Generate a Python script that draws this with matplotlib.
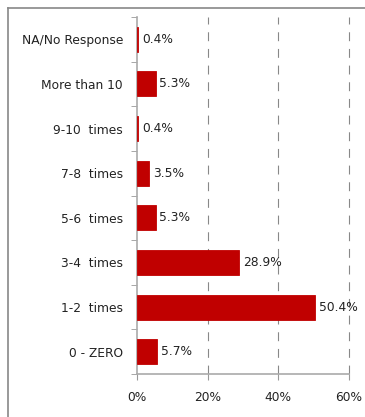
import matplotlib
matplotlib.use("Agg")
import matplotlib.pyplot as plt
from matplotlib.lines import Line2D

categories = ["0 - ZERO", "1-2  times", "3-4  times", "5-6  times", "7-8  times",
              "9-10  times", "More than 10", "NA/No Response"]
values = [5.7, 50.4, 28.9, 5.3, 3.5, 0.4, 5.3, 0.4]
xticks = [0, 20, 40, 60]
xtick_labels = ["0%", "20%", "40%", "60%"]

W, H = 365, 417
fig = plt.figure(figsize=(W / 100, H / 100), dpi=100)
plt.rcParams['font.family'] = ['DejaVu Sans']
FS = 8.8

left, right, top, bottom = 137, 349, 17, 374
ax = fig.add_axes([left / W, 1 - bottom / H, (right - left) / W, (bottom - top) / H])

ypos = list(range(len(categories)))
ax.barh(ypos, values, height=0.56, color="#C00000", edgecolor="#C00000",
        linewidth=0.6, zorder=3)
for y, v in zip(ypos, values):
    ax.text(v + 1.0, y, f"{v:.1f}%", va="center", ha="left", fontsize=FS, color="#222222")

ax.set_xlim(0, 60)
ax.set_ylim(-0.5, len(categories) - 0.5)
ax.set_yticks(ypos)
ax.set_yticklabels(categories, fontsize=FS, color="#222222")
ax.tick_params(axis='y', length=0, pad=10)
ax.set_yticks([i - 0.5 for i in range(len(categories) + 1)], minor=True)
ax.tick_params(axis='y', which='minor', length=4, color="#999999", left=True)

ax.set_xticks(xticks)
ax.set_xticklabels(xtick_labels, fontsize=FS, color="#222222")
ax.tick_params(axis='x', length=4, color="#999999", pad=8)

for x in xticks[1:]:
    ax.axvline(x, color="#888888", linewidth=0.8, linestyle=(0, (8, 7)), zorder=1,
               clip_on=False)

for s in ["top", "right"]:
    ax.spines[s].set_visible(False)
for s in ["left", "bottom"]:
    ax.spines[s].set_color("#AAAAAA")
    ax.spines[s].set_linewidth(1.2)
    ax.spines[s].set_zorder(2)

fig.add_artist(Line2D([8 / W, 8 / W], [0, 1 - 8 / H], transform=fig.transFigure,
                      color="#888888", linewidth=1.2))
fig.add_artist(Line2D([8 / W, 1], [1 - 8 / H, 1 - 8 / H], transform=fig.transFigure,
                      color="#888888", linewidth=1.2))

fig.savefig("out.png", dpi=100, facecolor="white")
